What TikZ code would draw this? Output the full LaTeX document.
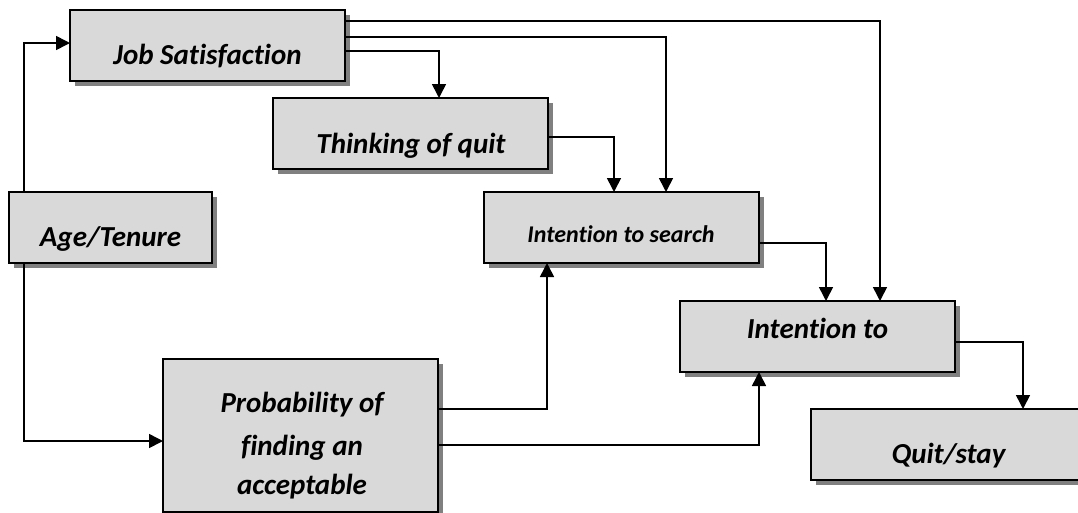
\documentclass[tikz,border=0pt]{standalone}
\usepackage{fontspec}
\setmainfont{Carlito}[Ligatures=NoCommon]
\usetikzlibrary{arrows.meta,calc}
\definecolor{boxgray}{HTML}{D9D9D9}
\definecolor{shadowgray}{HTML}{808080}
\newcommand\bigf{\fontsize{29}{34}\selectfont\bfseries\itshape}
\newcommand\smallf{\fontsize{24}{28}\selectfont\bfseries\itshape}
\begin{document}
\begin{tikzpicture}[x=1pt,y=-1pt,
  box/.style={draw=black,line width=1.6pt,fill=boxgray,minimum width=275pt,minimum height=71pt,
    inner sep=0pt,outer sep=0pt,anchor=north west,
    preaction={draw=none,fill=shadowgray,transform canvas={xshift=5pt,yshift=-5pt}}},
  lbl/.style={anchor=base,inner sep=0pt,font=\bigf},
  arr/.style={line width=1.6pt,-{Triangle[length=14pt,width=14pt]}}]
\useasboundingbox (0,0) rectangle (1078,512);
\clip (0,0) rectangle (1078,512);
% boxes
\node[box] (js) at (70,10) {};
\node[box] (tq) at (273,98) {};
\node[box] (is) at (484,192) {};
\node[box,minimum width=203pt] (age) at (9,192) {};
\node[box] (it) at (680,301) {};
\node[box] (qs) at (811,409) {};
\node[box,minimum height=153pt] (pr) at (163,359) {};
% labels
\node[lbl] (jst) at (207.5,64) {Job Satisfaction};
\node[lbl] (tqt) at (411,153) {Thinking of quit};
\node[lbl,font=\smallf] (ist) at (621,242) {Intention to search};
\node[lbl] (aget) at (110.5,246) {Age/Tenure};
\node[lbl] (itt) at (817.5,338) {Intention to};
\node[lbl] (qst) at (948.5,463) {Quit/stay};
\node[lbl] (pr1) at (302,412) {Probability of};
\node[lbl] (pr2) at (302,455) {finding an};
\node[lbl] (pr3) at (302,494) {acceptable};
% connectors
\draw[arr] ($(age.north west)+(15,0)$) |- ($(js.north west)+(0,33)$);
\draw[arr] ($(age.south west)+(15,0)$) |- ($(pr.north west)+(0,82)$);
\draw[arr] ($(js.north east)+(0,11)$) -| ($(it.north west)+(200,0)$);
\draw[arr] ($(js.north east)+(0,27)$) -| ($(is.north west)+(182,0)$);
\draw[arr] ($(js.north east)+(0,41)$) -| ($(tq.north west)+(166,0)$);
\draw[arr] ($(tq.north east)+(0,39)$) -| ($(is.north west)+(130,0)$);
\draw[arr] ($(is.north east)+(0,51)$) -| ($(it.north west)+(146,0)$);
\draw[arr] ($(pr.north east)+(0,50)$) -| ($(is.south west)+(63,0)$);
\draw[arr] ($(pr.north east)+(0,86)$) -| ($(it.south west)+(79,0)$);
\draw[arr] ($(it.north east)+(0,41)$) -| ($(qs.north west)+(212,0)$);
\end{tikzpicture}
\end{document}
